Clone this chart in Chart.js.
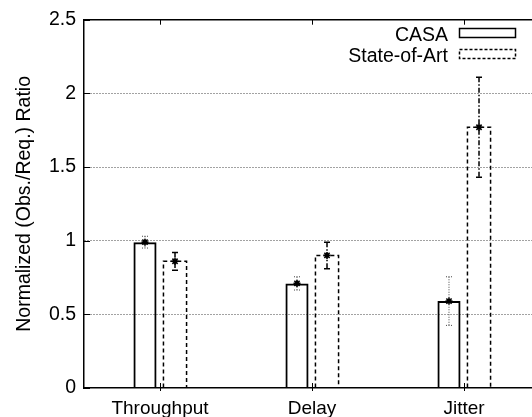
<!DOCTYPE html>
<html>
<head>
<meta charset="utf-8">
<script src="https://cdn.jsdelivr.net/npm/chart.js@4"></script>
<style>
  html, body { margin: 0; padding: 0; background: #fff; overflow: hidden; width: 532px; height: 417px; }
  canvas { display: block; }
</style>
</head>
<body>
<canvas id="myChart" width="540" height="417"></canvas>
<script>
const categories = ['Throughput', 'Delay', 'Jitter'];
const casaValues = [0.99, 0.71, 0.59];
const casaErrors = [0.04, 0.045, 0.165];
const stateValues = [0.86, 0.90, 1.77];
const stateErrors = [0.06, 0.09, 0.34];
const yTicks = [0, 0.5, 1, 1.5, 2, 2.5];
const seriesNames = ['CASA', 'State-of-Art'];
const errorLists = [casaErrors, stateErrors];

const FONT = '"Liberation Sans", Arial, sans-serif';

// error bars, stars, dashed outline, frame and legend
const extras = {
    id: 'extras',
    afterDatasetsDraw(chart) {
        const ctx = chart.ctx;
        const y = chart.scales.y;
        chart.data.datasets.forEach((ds, di) => {
            const meta = chart.getDatasetMeta(di);
            meta.data.forEach((bar, i) => {
                ctx.save();
                if (di === 1) {
                    // dashed outline for State-of-Art
                    const half = bar.width / 2;
                    ctx.strokeStyle = '#000';
                    ctx.lineWidth = 1.5;
                    ctx.setLineDash([4, 3]);
                    ctx.beginPath();
                    ctx.moveTo(bar.x - half, bar.base);
                    ctx.lineTo(bar.x - half, bar.y);
                    ctx.lineTo(bar.x + half, bar.y);
                    ctx.lineTo(bar.x + half, bar.base);
                    ctx.stroke();
                }
                const v = ds.data[i];
                const e = errorLists[di][i];
                const yHi = y.getPixelForValue(v + e);
                const yLo = y.getPixelForValue(v - e);
                if (di === 0) {
                    ctx.strokeStyle = '#444';
                    ctx.lineWidth = 1;
                    ctx.setLineDash([1, 1.5]);
                } else {
                    ctx.strokeStyle = '#000';
                    ctx.lineWidth = 1.5;
                    ctx.setLineDash([5, 2, 1.5, 2]);
                }
                ctx.beginPath();
                ctx.moveTo(bar.x, yHi);
                ctx.lineTo(bar.x, yLo);
                ctx.stroke();
                ctx.setLineDash(di === 0 ? [1, 1.5] : []);
                ctx.beginPath();
                ctx.moveTo(bar.x - 3, yHi); ctx.lineTo(bar.x + 3, yHi);
                ctx.moveTo(bar.x - 3, yLo); ctx.lineTo(bar.x + 3, yLo);
                ctx.stroke();
                // star marker
                ctx.setLineDash([]);
                ctx.strokeStyle = '#000';
                ctx.lineWidth = 1.6;
                const r = 3.5;
                ctx.beginPath();
                ctx.moveTo(bar.x - r, bar.y); ctx.lineTo(bar.x + r, bar.y);
                ctx.moveTo(bar.x, bar.y - r); ctx.lineTo(bar.x, bar.y + r);
                ctx.moveTo(bar.x - r * 0.75, bar.y - r * 0.75); ctx.lineTo(bar.x + r * 0.75, bar.y + r * 0.75);
                ctx.moveTo(bar.x - r * 0.75, bar.y + r * 0.75); ctx.lineTo(bar.x + r * 0.75, bar.y - r * 0.75);
                ctx.stroke();
                ctx.restore();
            });
        });
    },
    afterDraw(chart) {
        const ctx = chart.ctx;
        const area = chart.chartArea;
        const x = chart.scales.x;
        const y = chart.scales.y;
        ctx.save();
        ctx.strokeStyle = '#000';
        ctx.lineWidth = 1.5;
        ctx.beginPath();
        ctx.moveTo(area.left, area.top);
        ctx.lineTo(area.right, area.top);
        ctx.stroke();
        ctx.lineWidth = 1;
        categories.forEach((c, i) => {
            const px = Math.round(x.getPixelForValue(i)) + 0.5;
            ctx.beginPath();
            ctx.moveTo(px, area.top);
            ctx.lineTo(px, area.top + 5);
            ctx.moveTo(px, area.bottom + 3);
            ctx.lineTo(px, area.bottom - 5);
            ctx.stroke();
        });
        yTicks.forEach(v => {
            const py = Math.round(y.getPixelForValue(v)) + 0.5;
            ctx.beginPath();
            ctx.moveTo(area.left, py);
            ctx.lineTo(area.left + 6, py);
            ctx.stroke();
        });
        // legend
        ctx.font = '19.5px ' + FONT;
        ctx.fillStyle = '#000';
        ctx.textAlign = 'right';
        ctx.textBaseline = 'alphabetic';
        seriesNames.forEach((name, i) => {
            const base = 41 + i * 21;
            ctx.fillText(name, 448, base);
            ctx.lineWidth = 1.5;
            ctx.setLineDash(i === 0 ? [] : [3, 2]);
            ctx.strokeRect(459.5, base - 12.5, 56, 9);
        });
        ctx.restore();
    }
};

const config = {
    type: 'bar',
    data: {
        labels: categories,
        datasets: [{
            label: seriesNames[0],
            data: casaValues,
            backgroundColor: 'rgba(0,0,0,0)',
            borderColor: '#000',
            borderWidth: 2,
            categoryPercentage: 0.395,
            barPercentage: 0.77
        }, {
            label: seriesNames[1],
            data: stateValues,
            backgroundColor: 'rgba(0,0,0,0)',
            borderWidth: 0,
            categoryPercentage: 0.395,
            barPercentage: 0.77
        }]
    },
    options: {
        responsive: false,
        animation: false,
        layout: { padding: { top: 18, left: 0, right: 0, bottom: 0 } },
        plugins: {
            legend: { display: false },
            tooltip: { enabled: false }
        },
        scales: {
            x: {
                grid: { display: false, drawTicks: false },
                border: { display: true, color: '#000', width: 1.5 },
                ticks: { color: '#000', font: { family: FONT, size: 19 }, padding: 9, maxRotation: 0 },
                afterFit(scale) { scale.height = 29; }
            },
            y: {
                min: 0,
                max: 2.5,
                afterBuildTicks(scale) { scale.ticks = yTicks.map(v => ({ value: v })); },
                grid: {
                    drawTicks: false,
                    color: c => (c.tick && (c.tick.value === 0 || c.tick.value === 2.5)) ? 'rgba(0,0,0,0)' : '#444',
                    lineWidth: 1
                },
                border: { display: true, color: '#000', width: 1.5, dash: [1, 2] },
                ticks: {
                    color: '#000',
                    font: { family: FONT, size: 19.5 },
                    padding: 8,
                    callback: v => String(v)
                },
                title: {
                    display: true,
                    text: 'Normalized (Obs./Req.) Ratio',
                    color: '#000',
                    font: { family: FONT, size: 19.5 },
                    padding: { top: 13, bottom: 0 }
                },
                afterFit(scale) { scale.width = 84; }
            }
        }
    },
    plugins: [extras]
};

const ctx = document.getElementById('myChart').getContext('2d');
const myChart = new Chart(ctx, config);
</script>
</body>
</html>
